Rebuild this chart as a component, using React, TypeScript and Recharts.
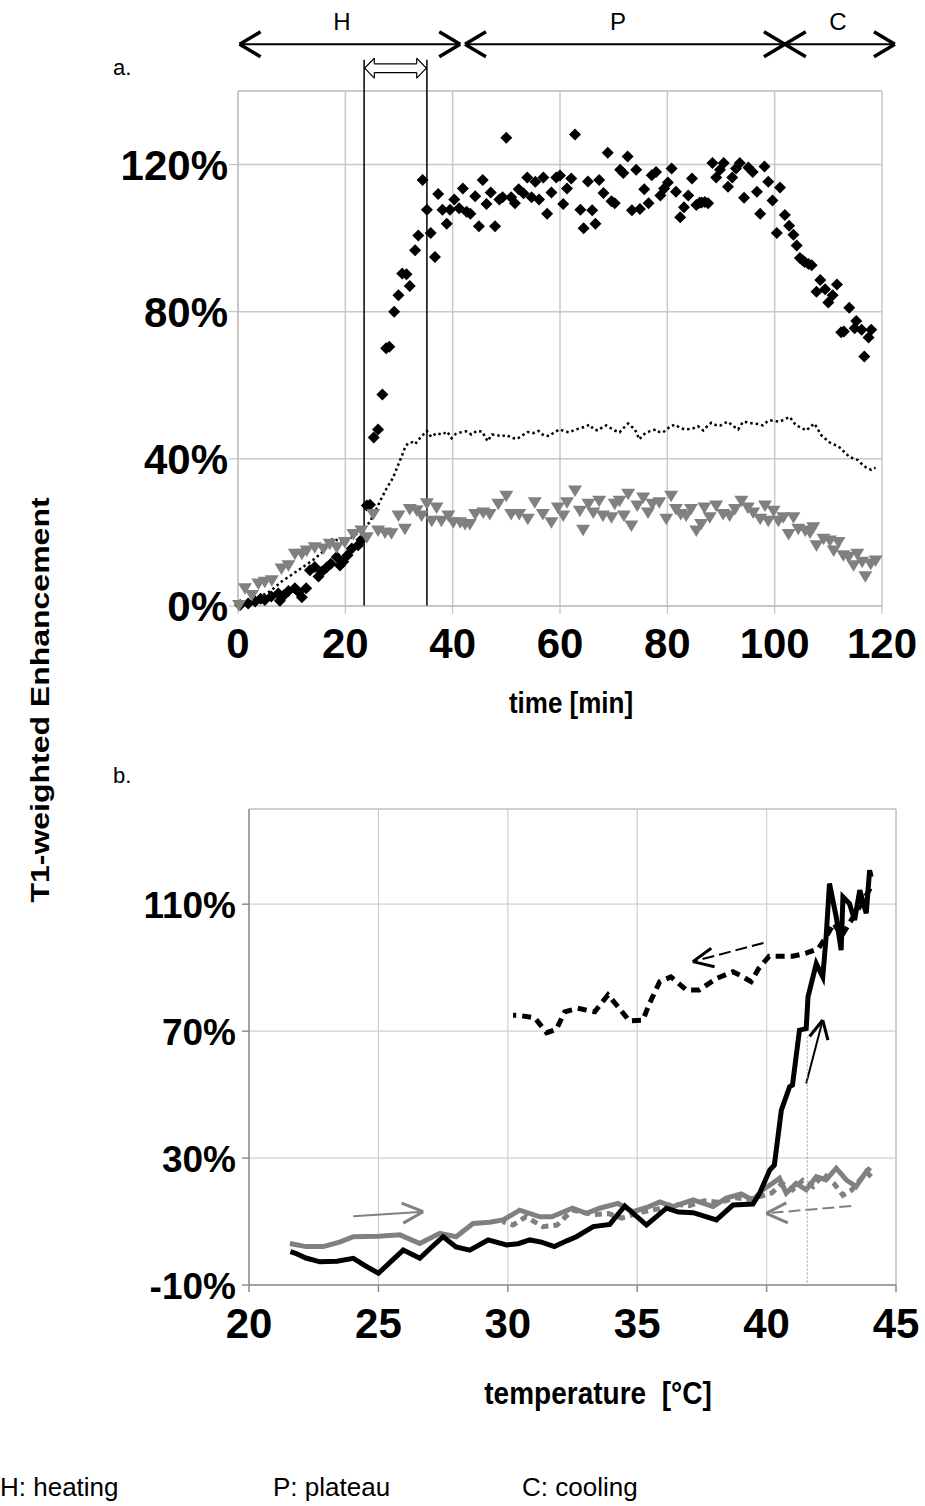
import React from "react";
import {
  ComposedChart,
  LineChart,
  Line,
  Scatter,
  XAxis,
  YAxis,
  CartesianGrid,
  ReferenceLine,
} from "recharts";

const FONT = "'Liberation Sans', Arial, Helvetica, sans-serif";

// ---- panel a: enhancement vs time ----
const timeTicks = [0, 20, 40, 60, 80, 100, 120];
const pctTicksA = [0, 40, 80, 120];

// [time min, enhancement %]
const diamondPts: [number, number][] = [
  [0.4, 0.3], [1.9, 0.7], [3.2, 1.2], [4.2, 2.0], [5.0, 1.6], [6.2, 2.6], [7.5, 3.4], [7.8, 1.4],
  [8.6, 3.0], [9.4, 4.1], [10.6, 4.8], [11.3, 3.8], [11.9, 2.4], [12.7, 4.8], [13.4, 9.7], [14.3, 10.6],
  [15.0, 8.0], [15.6, 9.3], [16.5, 10.5], [17.3, 11.5], [18.4, 13.3], [19.0, 11.0], [19.6, 12.0], [20.4, 13.8],
  [21.2, 15.6], [22.4, 16.5], [23.0, 18.0], [24.0, 27.3], [24.6, 27.5], [25.3, 45.8], [26.1, 48.0], [26.9, 57.5],
  [27.6, 70.1], [28.2, 70.5], [29.1, 80.0], [29.9, 84.5], [30.6, 90.4], [31.4, 90.2], [32.0, 87.0], [33.0, 96.7],
  [33.6, 100.7], [34.4, 115.8], [35.2, 107.7], [35.9, 101.4], [36.7, 94.9], [37.3, 112.0], [38.1, 107.7], [38.9, 103.9],
  [39.5, 107.7], [40.3, 110.5], [41.2, 108.1], [41.9, 113.5], [42.6, 107.2], [43.3, 106.6], [44.2, 111.4], [44.9, 103.2],
  [45.6, 115.8], [46.3, 109.3], [47.1, 112.4], [47.9, 103.2], [48.7, 110.5], [49.3, 111.1], [50.0, 127.3], [50.9, 111.1],
  [51.6, 109.5], [52.3, 113.3], [53.2, 112.2], [53.9, 116.5], [54.7, 111.1], [55.4, 115.3], [56.1, 110.5], [56.9, 116.5],
  [57.6, 106.6], [58.4, 112.4], [59.3, 116.5], [60.0, 117.0], [60.6, 109.3], [61.3, 113.5], [62.1, 116.2], [62.8, 128.2],
  [63.8, 107.7], [64.4, 102.7], [65.2, 115.4], [66.0, 107.6], [66.6, 103.9], [67.3, 115.8], [68.1, 112.3], [68.9, 123.2],
  [69.6, 110.0], [70.2, 109.5], [71.2, 118.6], [71.8, 117.7], [72.6, 122.2], [73.4, 107.6], [74.2, 118.6], [74.9, 107.9],
  [75.7, 113.3], [76.5, 109.5], [77.1, 117.1], [77.9, 118.0], [78.7, 111.6], [79.4, 113.5], [80.1, 115.1], [80.8, 118.9],
  [81.6, 112.6], [82.4, 105.7], [83.1, 108.4], [83.9, 111.6], [84.6, 116.2], [85.4, 109.0], [86.0, 109.6], [86.4, 109.7],
  [87.0, 109.8], [87.6, 109.5], [88.4, 120.4], [89.1, 116.5], [89.8, 118.6], [90.5, 120.4], [91.3, 114.0], [92.1, 116.5],
  [92.8, 118.9], [93.5, 120.4], [94.3, 111.0], [95.1, 119.2], [95.9, 118.0], [96.7, 112.6], [97.3, 106.6], [98.1, 119.5],
  [98.8, 115.3], [99.6, 110.2], [100.4, 101.4], [101.0, 113.8], [101.9, 106.3], [102.7, 103.4], [103.5, 100.9], [104.1, 98.0],
  [104.7, 94.6], [105.2, 94.0], [105.6, 93.5], [106.3, 93.0], [106.9, 92.6], [107.8, 85.4], [108.5, 88.6], [109.4, 86.1],
  [110.0, 82.5], [110.8, 84.5], [111.6, 87.4], [112.4, 74.4], [112.9, 74.6], [113.9, 81.1], [114.9, 75.5], [115.2, 77.5],
  [116.2, 75.1], [116.7, 67.8], [117.5, 73.0], [118.0, 75.1],
];

const trianglePts: [number, number][] = [
  [0.2, 0.3], [1.3, 4.8], [2.6, 3.0], [3.8, 6.1], [5.0, 6.6], [6.3, 7.0], [8.1, 10.2], [9.4, 11.1],
  [10.6, 14.2], [11.9, 14.2], [12.8, 15.1], [14.3, 16.0], [15.9, 15.6], [17.1, 16.9], [18.4, 16.0], [19.9, 17.4],
  [21.5, 19.6], [23.0, 20.5], [24.0, 18.7], [25.2, 25.0], [26.1, 20.5], [27.4, 20.0], [28.6, 19.8], [29.9, 24.6],
  [31.1, 21.0], [32.0, 26.4], [33.3, 26.0], [34.2, 24.6], [35.2, 27.9], [36.1, 23.2], [37.0, 26.8], [37.9, 23.2],
  [39.2, 24.6], [40.1, 22.8], [41.4, 22.8], [42.3, 22.3], [43.2, 22.3], [44.2, 25.0], [45.7, 25.4], [46.9, 25.0],
  [48.5, 27.8], [50.0, 30.0], [50.9, 25.0], [52.4, 25.0], [54.0, 23.7], [55.3, 28.2], [56.8, 25.0], [58.4, 22.8],
  [59.6, 26.8], [60.6, 24.6], [61.3, 28.2], [62.8, 31.4], [63.7, 25.9], [64.3, 20.7], [65.3, 27.8], [66.2, 25.4],
  [67.3, 28.6], [68.0, 24.6], [69.6, 24.1], [70.2, 27.8], [71.1, 28.6], [71.9, 24.6], [72.7, 30.5], [73.3, 21.9],
  [74.4, 27.3], [75.5, 29.5], [76.4, 25.4], [77.2, 27.8], [78.5, 28.2], [79.8, 23.7], [80.7, 30.0], [81.6, 26.4],
  [82.5, 25.0], [83.5, 24.6], [84.4, 26.4], [85.4, 20.5], [86.3, 22.3], [86.9, 26.8], [87.9, 24.1], [89.1, 27.3],
  [90.4, 25.0], [91.6, 24.6], [92.6, 26.4], [93.8, 28.6], [95.0, 26.8], [96.0, 25.4], [97.3, 23.7], [98.2, 27.3],
  [98.8, 23.2], [99.8, 25.9], [100.7, 23.2], [101.6, 24.1], [102.6, 19.6], [103.5, 24.1], [104.4, 21.0], [105.7, 20.5],
  [106.6, 20.0], [107.2, 21.4], [107.8, 16.5], [109.1, 18.3], [110.3, 17.8], [111.0, 15.1], [111.9, 17.4], [112.8, 13.8],
  [113.8, 13.4], [114.7, 11.1], [115.4, 14.2], [116.3, 12.0], [116.9, 8.1], [117.9, 11.5], [118.8, 12.4],
];

const dottedPts: [number, number][] = [
  [0, 0], [2, 1], [4, 2.5], [6, 4], [8, 6.5], [10, 8.5], [12, 10.5], [14, 12.5], [16, 15], [17.7, 18.4],
  [19, 17.5], [20.5, 18], [22, 19.5], [23, 20.5], [24.5, 22.7], [25.5, 25.5], [26.5, 28.6], [27.7, 32],
  [28.9, 34.9], [29.6, 37.5], [30.4, 40.3], [31.1, 43], [31.7, 44.3], [32.5, 44.5], [33, 44], [34, 45.8],
  [35.2, 47.6], [36, 46], [37, 47], [38, 46.6], [39, 47.4], [39.8, 45.6], [40.6, 46.8], [41.5, 47.2],
  [42.5, 47.5], [43.5, 46.6], [44.5, 47.6], [45.5, 47.4], [46.5, 44.8], [47.3, 46.6], [48.2, 46.5], [49, 46.1],
  [50, 46.5], [51, 45.7], [52, 45.4], [53, 46.4], [54, 47.3], [55, 47.0], [56, 47.6], [57, 46.3], [58, 46.2],
  [59, 47.3], [60, 48], [61, 47.4], [61.8, 47.2], [62.7, 47.9], [63.7, 48.3], [64.6, 48.7], [65.5, 49.3],
  [66.3, 48.0], [67.1, 47.7], [67.9, 48.6], [68.6, 49.1], [69.4, 48.4], [70.2, 47.7], [71.1, 47.2], [71.9, 48.5],
  [72.7, 49.6], [73.3, 48.8], [73.9, 48.2], [74.8, 45.3], [75.4, 46.4], [76.1, 47.2], [77, 47.6], [77.9, 48.0],
  [78.5, 47.3], [79.2, 47.2], [80, 48.2], [80.7, 48.9], [81.4, 49.3], [82.3, 48.5], [83.2, 48.0], [84, 48.1],
  [84.8, 48.3], [85.7, 48.9], [86.7, 47.7], [87.5, 49.0], [88.2, 49.8], [89, 49.2], [89.8, 49.0], [90.5, 49.6],
  [91.3, 50.1], [92.2, 49.0], [93.2, 48.0], [94.1, 50.1], [95, 49.9], [96, 49.6], [96.9, 49.5], [97.8, 49.1],
  [98.5, 50.0], [99.1, 50.5], [100, 50.3], [100.9, 50.1], [101.9, 50.8], [102.8, 51.4], [103.4, 50.2], [104, 49.1],
  [104.9, 48.5], [105.9, 47.7], [106.7, 48.8], [107.4, 49.6], [108.1, 47.9], [108.7, 46.4], [109.5, 45.4],
  [110.2, 44.5], [110.9, 44.0], [111.6, 43.6], [112.4, 42.8], [113.2, 41.5], [114, 40.5], [114.7, 40.1],
  [115.5, 39.7], [116.3, 38.5], [117.1, 37.6], [118, 37.0], [118.8, 37.6],
];

// ---- panel b: enhancement vs temperature ----
const tempTicks = [20, 25, 30, 35, 40, 45];
const pctTicksB = [-10, 30, 70, 110];

// [temperature °C, enhancement %]
const blackHeat: [number, number][] = [
  [21.6, 0.5], [21.8, 0], [22.2, -1.5], [22.74, -2.7], [23.4, -2.5], [24.03, -1.6], [24.5, -4.0], [25.0, -6.3],
  [25.5, -2.5], [25.96, 1.0], [26.6, -1.6], [27.0, 1.5], [27.5, 5.2], [28.0, 2.0], [28.53, 1.0], [29.24, 4.2],
  [29.95, 2.6], [30.4, 3.0], [30.85, 4.2], [31.3, 3.5], [31.8, 2.1], [32.3, 4.0], [32.65, 5.2], [33.3, 8.4],
  [33.94, 9.1], [34.52, 14.9], [35.36, 8.9], [36.13, 14.2], [36.6, 13.0], [37.16, 12.8], [38.06, 10.5], [38.7, 15.2],
  [39.47, 15.5], [39.73, 18.9], [40.12, 26.2], [40.3, 27.8], [40.57, 45.1], [40.89, 52.5], [41.0, 53], [41.27, 70.3],
  [41.53, 70.8], [41.6, 80.8], [41.92, 91.3], [42.17, 87.1], [42.3, 99.7], [42.43, 116.5], [42.69, 106], [42.88, 95.5],
  [42.95, 112.3], [43.2, 110.2], [43.4, 105], [43.6, 114.4], [43.85, 107.1], [43.98, 120.7], [44.04, 118.6],
];

const blackCool: [number, number][] = [
  [44.0, 115], [43.8, 112], [43.5, 108], [43.2, 104], [42.9, 100], [42.6, 104], [42.3, 99.7], [42.0, 96],
  [41.5, 94.5], [41.0, 93.6], [40.5, 93.6], [40.1, 93.6], [39.7, 89.8], [39.4, 85.6], [39.0, 87.5], [38.7, 88.7],
  [38.06, 86.6], [37.4, 83], [36.9, 83], [36.3, 87.1], [35.87, 85.6], [35.48, 78.8], [35.22, 73.5], [34.7, 73.2],
  [34.26, 77.7], [33.87, 81.4], [33.36, 76.1], [32.7, 77.2], [32.2, 76.1], [31.88, 70.6], [31.5, 69.5], [31.04, 74.2],
  [30.4, 75], [30.2, 75],
];

const grayHeat: [number, number][] = [
  [21.58, 3.1], [22.2, 2.1], [22.87, 2.1], [23.5, 3.5], [24.03, 5.2], [25.0, 5.4], [25.83, 5.8], [26.6, 3.1],
  [27.37, 6.3], [28.0, 5.2], [28.66, 9.4], [29.3, 9.8], [29.82, 10.5], [30.46, 13.6], [31.24, 11.5], [31.7, 11.5],
  [32.5, 14.2], [33.04, 12.6], [33.55, 14.2], [34.26, 15.7], [34.84, 13.1], [35.4, 14.5], [35.87, 16.2], [36.38, 14.7],
  [37.16, 16.8], [37.93, 14.7], [38.44, 17.4], [39.02, 18.7], [39.47, 16.8], [39.86, 20], [40.5, 23.6], [40.76, 18.9],
  [41.14, 22], [41.53, 20], [41.92, 24.1], [42.3, 23.1], [42.69, 26.8], [43.08, 23.1], [43.46, 21], [43.85, 25.7],
  [44.04, 24.1],
];

const grayCool: [number, number][] = [
  [44.0, 27], [43.7, 24], [43.3, 20], [42.95, 18.3], [42.6, 22], [42.2, 25], [41.8, 21], [41.4, 23], [41.0, 20],
  [40.6, 22], [40.2, 19], [39.8, 18], [39.3, 17], [38.8, 17.5], [38.2, 16], [37.6, 16.5], [37.0, 15], [36.4, 15.5],
  [35.8, 14], [35.2, 13], [34.4, 11.1], [33.9, 12.5], [33.3, 12.2], [32.5, 13.6], [31.9, 8.9], [31.35, 8.4],
  [30.7, 11.5], [30.2, 8.9], [29.8, 10],
];

const toRows = (pts: [number, number][]) => pts.map(([t, v]) => ({ t, v }));

type Seg = { p: [number, number]; q: [number, number]; color: string; w: number; dash?: string };

// phase arrows above panel a (time units, % units)
const phaseY = 152.7;
const phaseSegs: Seg[] = [
  { p: [0.3, phaseY], q: [41.4, phaseY], color: "#000", w: 2 },
  { p: [42.3, phaseY], q: [101.9, phaseY], color: "#000", w: 2 },
  { p: [101.9, phaseY], q: [122.4, phaseY], color: "#000", w: 2 },
  // chevrons
  { p: [4.2, phaseY + 3.4], q: [0.3, phaseY], color: "#000", w: 3.5 },
  { p: [4.2, phaseY - 3.4], q: [0.3, phaseY], color: "#000", w: 3.5 },
  { p: [37.5, phaseY + 3.4], q: [41.4, phaseY], color: "#000", w: 3.5 },
  { p: [37.5, phaseY - 3.4], q: [41.4, phaseY], color: "#000", w: 3.5 },
  { p: [46.2, phaseY + 3.4], q: [42.3, phaseY], color: "#000", w: 3.5 },
  { p: [46.2, phaseY - 3.4], q: [42.3, phaseY], color: "#000", w: 3.5 },
  { p: [98.0, phaseY + 3.4], q: [101.9, phaseY], color: "#000", w: 3.5 },
  { p: [98.0, phaseY - 3.4], q: [101.9, phaseY], color: "#000", w: 3.5 },
  { p: [105.8, phaseY + 3.4], q: [101.9, phaseY], color: "#000", w: 3.5 },
  { p: [105.8, phaseY - 3.4], q: [101.9, phaseY], color: "#000", w: 3.5 },
  { p: [118.5, phaseY + 3.4], q: [122.4, phaseY], color: "#000", w: 3.5 },
  { p: [118.5, phaseY - 3.4], q: [122.4, phaseY], color: "#000", w: 3.5 },
  // window markers
  { p: [23.5, 0], q: [23.5, 148.5], color: "#000", w: 1.5 },
  { p: [35.2, 0], q: [35.2, 148.5], color: "#000", w: 1.5 },
  // hollow double arrow
  { p: [25.4, 147.4], q: [33.3, 147.4], color: "#000", w: 1.2 },
  { p: [25.4, 145.0], q: [33.3, 145.0], color: "#000", w: 1.2 },
  { p: [23.6, 146.2], q: [25.4, 148.9], color: "#000", w: 1.2 },
  { p: [23.6, 146.2], q: [25.4, 143.5], color: "#000", w: 1.2 },
  { p: [25.4, 148.9], q: [25.4, 147.4], color: "#000", w: 1.2 },
  { p: [25.4, 143.5], q: [25.4, 145.0], color: "#000", w: 1.2 },
  { p: [35.1, 146.2], q: [33.3, 148.9], color: "#000", w: 1.2 },
  { p: [35.1, 146.2], q: [33.3, 143.5], color: "#000", w: 1.2 },
  { p: [33.3, 148.9], q: [33.3, 147.4], color: "#000", w: 1.2 },
  { p: [33.3, 143.5], q: [33.3, 145.0], color: "#000", w: 1.2 },
];

// direction arrows inside panel b (°C, %)
const bSegs: Seg[] = [
  { p: [24.03, 11.7], q: [26.73, 13.1], color: "#808080", w: 2 },
  { p: [25.9, 15.8], q: [26.73, 13.1], color: "#808080", w: 3 },
  { p: [25.96, 9.5], q: [26.73, 13.1], color: "#808080", w: 3 },
  { p: [39.88, 97.8], q: [37.15, 91.9], color: "#000", w: 2, dash: "12 5" },
  { p: [37.86, 96.1], q: [37.15, 91.9], color: "#000", w: 3 },
  { p: [37.99, 90.3], q: [37.15, 91.9], color: "#000", w: 3 },
  { p: [41.53, 53.5], q: [42.17, 73.5], color: "#000", w: 2 },
  { p: [41.66, 68.3], q: [42.17, 73.5], color: "#000", w: 3 },
  { p: [42.37, 67.2], q: [42.17, 73.5], color: "#000", w: 3 },
  { p: [43.27, 14.9], q: [39.99, 12.6], color: "#808080", w: 2, dash: "12 5" },
  { p: [40.76, 15.9], q: [39.99, 12.6], color: "#808080", w: 3 },
  { p: [40.82, 9.6], q: [39.99, 12.6], color: "#808080", w: 3 },
  { p: [41.57, 68.3], q: [41.57, -10], color: "#999", w: 1, dash: "2 2" },
];

const renderSegs = (segs: Seg[], key: string) =>
  segs.map((s, i) => (
    <ReferenceLine
      key={key + i}
      segment={[{ x: s.p[0], y: s.p[1] }, { x: s.q[0], y: s.q[1] }]}
      stroke={s.color}
      strokeWidth={s.w}
      strokeDasharray={s.dash}
      ifOverflow="visible"
    />
  ));

const Diamond = (props: any) => {
  const { cx, cy } = props;
  return <path d={`M${cx},${cy - 6}L${cx + 6},${cy}L${cx},${cy + 6}L${cx - 6},${cy}Z`} fill="#000" />;
};

const DownTriangle = (props: any) => {
  const { cx, cy } = props;
  return <path d={`M${cx - 7},${cy - 5}L${cx + 7},${cy - 5}L${cx},${cy + 6.5}Z`} fill="#808080" />;
};

const XTickA = ({ x, y, payload }: any) => (
  <text x={x} y={y + 44} textAnchor="middle" fontSize={42} fontWeight="bold" fontFamily={FONT} fill="#000">
    {payload.value}
  </text>
);
const YTickA = ({ x, y, payload }: any) => (
  <text x={x} y={y + 15} textAnchor="end" fontSize={42} fontWeight="bold" fontFamily={FONT} fill="#000">
    {payload.value}%
  </text>
);
const XTickB = ({ x, y, payload }: any) => (
  <text x={x} y={y + 46} textAnchor="middle" fontSize={42} fontWeight="bold" fontFamily={FONT} fill="#000">
    {payload.value}
  </text>
);
const YTickB = ({ x, y, payload }: any) => (
  <text x={x} y={y + 14} textAnchor="end" fontSize={37} fontWeight="bold" fontFamily={FONT} fill="#000">
    {payload.value}%
  </text>
);

const abs = (left: number, top: number, extra: React.CSSProperties = {}): React.CSSProperties => ({
  position: "absolute",
  left,
  top,
  lineHeight: 1,
  whiteSpace: "nowrap",
  ...extra,
});

export default function App() {
  return (
    <div style={{ position: "absolute", left: 0, top: 0, width: 925, height: 1506, background: "#fff", fontFamily: FONT, color: "#000" }}>
      {/* panel a */}
      <div style={abs(0, 0)}>
        <ComposedChart width={925} height={670} margin={{ top: 91, right: 43, left: 128, bottom: 0 }}>
          <CartesianGrid stroke="#c8c8c8" strokeWidth={1.5} />
          <XAxis
            dataKey="t"
            type="number"
            domain={[0, 120]}
            ticks={timeTicks}
            height={64}
            stroke="#b8b8b8"
            tickSize={8}
            tickMargin={0}
            tick={<XTickA />}
          />
          <YAxis
            dataKey="v"
            type="number"
            domain={[0, 140]}
            ticks={pctTicksA}
            width={110}
            stroke="#b8b8b8"
            tickSize={9}
            tickMargin={1}
            tick={<YTickA />}
          />
          <ReferenceLine y={140} stroke="#c8c8c8" strokeWidth={1.5} />
          <Scatter data={toRows(diamondPts)} dataKey="v" shape={<Diamond />} isAnimationActive={false} />
          <Scatter data={toRows(trianglePts)} dataKey="v" shape={<DownTriangle />} isAnimationActive={false} />
          <Line
            data={toRows(dottedPts)}
            dataKey="v"
            type="linear"
            stroke="#000"
            strokeWidth={2.5}
            strokeDasharray="2.5 3"
            dot={false}
            isAnimationActive={false}
          />
          {renderSegs(phaseSegs, "ph")}
        </ComposedChart>
      </div>
      <div style={abs(342, 10, { fontSize: 24, transform: "translateX(-50%)" })}>H</div>
      <div style={abs(618, 10, { fontSize: 24, transform: "translateX(-50%)" })}>P</div>
      <div style={abs(838, 10, { fontSize: 24, transform: "translateX(-50%)" })}>C</div>
      <div style={abs(113, 57, { fontSize: 22 })}>a.</div>
      <div style={abs(571, 690, { fontSize: 26, fontWeight: "bold", transform: "translateX(-50%) scaleY(1.15)" })}>time [min]</div>

      {/* shared y label */}
      <div
        style={abs(40, 700, {
          fontSize: 26,
          fontWeight: "bold",
          transform: "translate(-50%, -50%) rotate(-90deg) scale(1.23, 1)",
        })}
      >
        T1-weighted Enhancement
      </div>

      {/* panel b */}
      <div style={abs(113, 765, { fontSize: 22 })}>b.</div>
      <div style={abs(0, 760)}>
        <LineChart width={925} height={590} margin={{ top: 49, right: 29, left: 139, bottom: 0 }}>
          <CartesianGrid stroke="#d0d0d0" strokeWidth={1.2} />
          <XAxis
            dataKey="t"
            type="number"
            domain={[20, 45]}
            ticks={tempTicks}
            height={65}
            stroke="#8c8c8c"
            strokeWidth={1.5}
            tickSize={7}
            tickMargin={0}
            tick={<XTickB />}
          />
          <YAxis
            dataKey="v"
            type="number"
            domain={[-10, 140]}
            ticks={pctTicksB}
            width={110}
            stroke="#8c8c8c"
            strokeWidth={1.5}
            tickSize={7}
            tickMargin={6}
            tick={<YTickB />}
          />
          <ReferenceLine y={140} stroke="#c8c8c8" strokeWidth={1.5} />
          <ReferenceLine x={45} stroke="#c8c8c8" strokeWidth={1.5} />
          <Line data={toRows(grayCool)} dataKey="v" stroke="#808080" strokeWidth={5} strokeDasharray="7 5" dot={false} isAnimationActive={false} />
          <Line data={toRows(grayHeat)} dataKey="v" stroke="#808080" strokeWidth={5} dot={false} isAnimationActive={false} />
          <Line data={toRows(blackCool)} dataKey="v" stroke="#000" strokeWidth={5} strokeDasharray="9 6" dot={false} isAnimationActive={false} />
          <Line data={toRows(blackHeat)} dataKey="v" stroke="#000" strokeWidth={5} dot={false} isAnimationActive={false} />
          {renderSegs(bSegs, "b")}
        </LineChart>
      </div>
      <div style={abs(598, 1380, { fontSize: 28, fontWeight: "bold", transform: "translateX(-50%) scaleY(1.1)" })}>
        temperature&nbsp;&nbsp;[°C]
      </div>

      {/* legend text */}
      <div style={abs(0, 1474, { fontSize: 26 })}>H: heating</div>
      <div style={abs(273, 1474, { fontSize: 26 })}>P: plateau</div>
      <div style={abs(522, 1474, { fontSize: 26 })}>C: cooling</div>
    </div>
  );
}
